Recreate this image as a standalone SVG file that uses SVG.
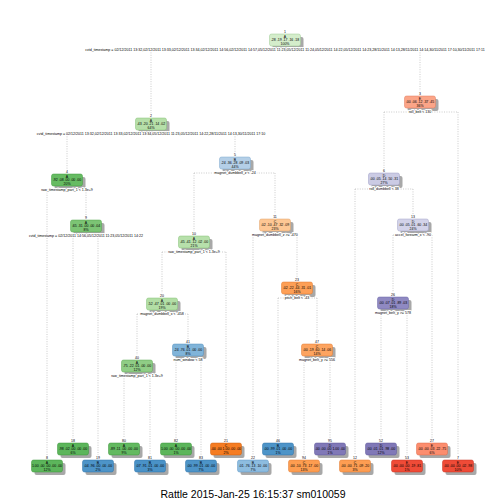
<svg xmlns="http://www.w3.org/2000/svg" width="504" height="504" viewBox="0 0 504 504">
<style>
.bg{fill:#ffffff}
.sh{fill:#a8a8a8}
.bx{stroke-width:0.5}
.nt{font-family:"Liberation Sans",Arial,sans-serif;font-size:3.5px;text-anchor:middle;fill:#000}
.sl{font-family:"Liberation Sans",Arial,sans-serif;font-size:3.6px;text-anchor:middle;fill:#000;stroke:#fff;stroke-width:2.2px;paint-order:stroke;stroke-linejoin:round}
.cn{stroke:#b4b4b4;stroke-width:0.7;stroke-dasharray:1 1.4;fill:none}
.ft{font-family:"Liberation Sans",Arial,sans-serif;font-size:10.5px;text-anchor:middle;fill:#000}
</style>
<rect class="bg" x="0" y="0" width="504" height="504"/>
<g id="connectors">
<path class="cn" d="M151,50H420M151,50V113M420,50V91"/>
<path class="cn" d="M67,134H235M67,134V169M235,134V152"/>
<path class="cn" d="M384,112H458M384,112V168M458,112V455"/>
<path class="cn" d="M47,190H86M47,190V455M86,190V215"/>
<path class="cn" d="M194,173H275M194,173V231M275,173V214"/>
<path class="cn" d="M355,189H413M355,189V455M413,189V214"/>
<path class="cn" d="M73,236H98M73,236V438M98,236V455"/>
<path class="cn" d="M162,252H226M162,252V293M226,252V438"/>
<path class="cn" d="M253,235H297M253,235V455M297,235V277"/>
<path class="cn" d="M393,235H432M393,235V292M432,235V438"/>
<path class="cn" d="M137,314H188M137,314V355M188,314V339"/>
<path class="cn" d="M278,298H317M278,298V438M317,298V339"/>
<path class="cn" d="M381,313H407M381,313V438M407,313V455"/>
<path class="cn" d="M124,376H150M124,376V438M150,376V455"/>
<path class="cn" d="M176,360H201M176,360V438M201,360V455"/>
<path class="cn" d="M304,360H330M304,360V455M330,360V438"/>
</g>

<g id="node1">
<rect class="sh" x="272.5" y="37" width="31" height="12" rx="2"/>
<rect class="bx" x="269.5" y="34" width="31" height="12" rx="2" fill="#d4edcb" stroke="#9ccb92"/>
<text class="nt" x="285" y="32.7">1</text>
<text class="nt" x="285" y="37.6">A</text>
<text class="nt" x="285" y="41.4">.28 .19 .17 .16 .18</text>
<text class="nt" x="285" y="45.2">100%</text>
<text class="sl" x="285" y="51.3">cvtd_timestamp = 02/12/2011 13:32,02/12/2011 13:33,02/12/2011 13:34,02/12/2011 14:56,02/12/2011 14:57,05/12/2011 11:23,05/12/2011 11:24,05/12/2011 14:22,05/12/2011 14:23,28/11/2011 14:13,28/11/2011 14:14,30/11/2011 17:10,30/11/2011 17:11</text>
</g>

<g id="node2">
<rect class="sh" x="138.5" y="121" width="31" height="12" rx="2"/>
<rect class="bx" x="135.5" y="118" width="31" height="12" rx="2" fill="#b6dfa9" stroke="#84c077"/>
<text class="nt" x="151" y="116.7">2</text>
<text class="nt" x="151" y="121.6">A</text>
<text class="nt" x="151" y="125.4">.43 .20 .21 .14 .02</text>
<text class="nt" x="151" y="129.2">64%</text>
<text class="sl" x="151" y="135.3">cvtd_timestamp = 02/12/2011 13:32,02/12/2011 13:33,02/12/2011 13:34,05/12/2011 11:23,05/12/2011 14:22,28/11/2011 14:13,30/11/2011 17:10</text>
</g>

<g id="node3">
<rect class="sh" x="407.5" y="99" width="31" height="12" rx="2"/>
<rect class="bx" x="404.5" y="96" width="31" height="12" rx="2" fill="#fba588" stroke="#e07a5c"/>
<text class="nt" x="420" y="94.7">3</text>
<text class="nt" x="420" y="99.6">E</text>
<text class="nt" x="420" y="103.4">.00 .06 .12 .37 .45</text>
<text class="nt" x="420" y="107.2">36%</text>
<text class="sl" x="420" y="113.3">roll_belt &lt; 130</text>
</g>

<g id="node4">
<rect class="sh" x="54.5" y="177" width="31" height="12" rx="2"/>
<rect class="bx" x="51.5" y="174" width="31" height="12" rx="2" fill="#66bb62" stroke="#3f9a3d"/>
<text class="nt" x="67" y="172.7">4</text>
<text class="nt" x="67" y="177.6">A</text>
<text class="nt" x="67" y="181.4">.92 .08 .00 .00 .00</text>
<text class="nt" x="67" y="185.2">20%</text>
<text class="sl" x="67" y="191.3">raw_timestamp_part_1 &lt; 1.3e+9</text>
</g>

<g id="node5">
<rect class="sh" x="222.5" y="160" width="31" height="12" rx="2"/>
<rect class="bx" x="219.5" y="157" width="31" height="12" rx="2" fill="#b4cfe7" stroke="#7ea8cf"/>
<text class="nt" x="235" y="155.7">5</text>
<text class="nt" x="235" y="160.6">B</text>
<text class="nt" x="235" y="164.4">.24 .36 .28 .09 .03</text>
<text class="nt" x="235" y="168.2">44%</text>
<text class="sl" x="235" y="174.3">magnet_dumbbell_z &lt; -24</text>
</g>

<g id="node6">
<rect class="sh" x="371.5" y="176" width="31" height="12" rx="2"/>
<rect class="bx" x="368.5" y="173" width="31" height="12" rx="2" fill="#cbcbe4" stroke="#9c9cc6"/>
<text class="nt" x="384" y="171.7">6</text>
<text class="nt" x="384" y="176.6">D</text>
<text class="nt" x="384" y="180.4">.00 .05 .14 .50 .31</text>
<text class="nt" x="384" y="184.2">27%</text>
<text class="sl" x="384" y="190.3">roll_dumbbell &lt; 38</text>
</g>

<g id="node9">
<rect class="sh" x="73.5" y="223" width="31" height="12" rx="2"/>
<rect class="bx" x="70.5" y="220" width="31" height="12" rx="2" fill="#7cc474" stroke="#52a64b"/>
<text class="nt" x="86" y="218.7">9</text>
<text class="nt" x="86" y="223.6">A</text>
<text class="nt" x="86" y="227.4">.65 .31 .00 .00 .04</text>
<text class="nt" x="86" y="231.2">8%</text>
<text class="sl" x="86" y="237.3">cvtd_timestamp = 02/12/2011 14:56,05/12/2011 11:23,05/12/2011 14:22</text>
</g>

<g id="node10">
<rect class="sh" x="181.5" y="239" width="31" height="12" rx="2"/>
<rect class="bx" x="178.5" y="236" width="31" height="12" rx="2" fill="#b7e0ab" stroke="#84c077"/>
<text class="nt" x="194" y="234.7">10</text>
<text class="nt" x="194" y="239.6">A</text>
<text class="nt" x="194" y="243.4">.45 .41 .12 .02 .00</text>
<text class="nt" x="194" y="247.2">21%</text>
<text class="sl" x="194" y="253.3">raw_timestamp_part_1 &lt; 1.3e+9</text>
</g>

<g id="node11">
<rect class="sh" x="262.5" y="222" width="31" height="12" rx="2"/>
<rect class="bx" x="259.5" y="219" width="31" height="12" rx="2" fill="#fdc794" stroke="#e0a26a"/>
<text class="nt" x="275" y="217.7">11</text>
<text class="nt" x="275" y="222.6">C</text>
<text class="nt" x="275" y="226.4">.02 .10 .47 .32 .09</text>
<text class="nt" x="275" y="230.2">23%</text>
<text class="sl" x="275" y="236.3">magnet_dumbbell_z &gt;= -470</text>
</g>

<g id="node13">
<rect class="sh" x="400.5" y="222" width="31" height="12" rx="2"/>
<rect class="bx" x="397.5" y="219" width="31" height="12" rx="2" fill="#d3d3e9" stroke="#a2a2c9"/>
<text class="nt" x="413" y="217.7">13</text>
<text class="nt" x="413" y="222.6">D</text>
<text class="nt" x="413" y="226.4">.00 .05 .01 .60 .34</text>
<text class="nt" x="413" y="230.2">24%</text>
<text class="sl" x="413" y="236.3">accel_forearm_x &lt; -90</text>
</g>

<g id="node20">
<rect class="sh" x="149.5" y="301" width="31" height="12" rx="2"/>
<rect class="bx" x="146.5" y="298" width="31" height="12" rx="2" fill="#b2dea5" stroke="#84c077"/>
<text class="nt" x="162" y="296.7">20</text>
<text class="nt" x="162" y="301.6">A</text>
<text class="nt" x="162" y="305.4">.52 .47 .01 .00 .00</text>
<text class="nt" x="162" y="309.2">19%</text>
<text class="sl" x="162" y="315.3">magnet_dumbbell_x &lt; -458</text>
</g>

<g id="node23">
<rect class="sh" x="284.5" y="285" width="31" height="12" rx="2"/>
<rect class="bx" x="281.5" y="282" width="31" height="12" rx="2" fill="#fd9f56" stroke="#e07a30"/>
<text class="nt" x="297" y="280.7">23</text>
<text class="nt" x="297" y="285.6">C</text>
<text class="nt" x="297" y="289.4">.02 .22 .44 .31 .01</text>
<text class="nt" x="297" y="293.2">16%</text>
<text class="sl" x="297" y="299.3">pitch_belt &lt; -43</text>
</g>

<g id="node26">
<rect class="sh" x="380.5" y="300" width="31" height="12" rx="2"/>
<rect class="bx" x="377.5" y="297" width="31" height="12" rx="2" fill="#8f89c2" stroke="#6b64a6"/>
<text class="nt" x="393" y="295.7">26</text>
<text class="nt" x="393" y="300.6">D</text>
<text class="nt" x="393" y="304.4">.00 .07 .01 .89 .03</text>
<text class="nt" x="393" y="308.2">18%</text>
<text class="sl" x="393" y="314.3">magnet_belt_y &gt;= 578</text>
</g>

<g id="node40">
<rect class="sh" x="124.5" y="363" width="31" height="12" rx="2"/>
<rect class="bx" x="121.5" y="360" width="31" height="12" rx="2" fill="#8fcd85" stroke="#5eaa55"/>
<text class="nt" x="137" y="358.7">40</text>
<text class="nt" x="137" y="363.6">A</text>
<text class="nt" x="137" y="367.4">.75 .22 .01 .00 .00</text>
<text class="nt" x="137" y="371.2">12%</text>
<text class="sl" x="137" y="377.3">raw_timestamp_part_1 &lt; 1.3e+9</text>
</g>

<g id="node41">
<rect class="sh" x="175.5" y="347" width="31" height="12" rx="2"/>
<rect class="bx" x="172.5" y="344" width="31" height="12" rx="2" fill="#80b4d9" stroke="#5690bf"/>
<text class="nt" x="188" y="342.7">41</text>
<text class="nt" x="188" y="347.6">B</text>
<text class="nt" x="188" y="351.4">.24 .76 .01 .00 .00</text>
<text class="nt" x="188" y="355.2">8%</text>
<text class="sl" x="188" y="361.3">num_window &lt; 58</text>
</g>

<g id="node47">
<rect class="sh" x="304.5" y="347" width="31" height="12" rx="2"/>
<rect class="bx" x="301.5" y="344" width="31" height="12" rx="2" fill="#fda460" stroke="#e07a30"/>
<text class="nt" x="317" y="342.7">47</text>
<text class="nt" x="317" y="347.6">C</text>
<text class="nt" x="317" y="351.4">.00 .19 .60 .14 .06</text>
<text class="nt" x="317" y="355.2">14%</text>
<text class="sl" x="317" y="361.3">magnet_belt_y &gt;= 556</text>
</g>

<!-- leaves top row y=443, bottom row y=460 -->
<g id="node8">
<rect class="sh" x="34.5" y="463" width="31" height="12" rx="2"/>
<rect class="bx" x="31.5" y="460" width="31" height="12" rx="2" fill="#5cb55b" stroke="#3a9439"/>
<text class="nt" x="47" y="458.7">8</text>
<text class="nt" x="47" y="463.6">A</text>
<text class="nt" x="47" y="467.4">1.00 .00 .00 .00 .00</text>
<text class="nt" x="47" y="471.2">12%</text>
</g>
<g id="node18">
<rect class="sh" x="60.5" y="446" width="31" height="12" rx="2"/>
<rect class="bx" x="57.5" y="443" width="31" height="12" rx="2" fill="#5cb55b" stroke="#3a9439"/>
<text class="nt" x="73" y="441.7">18</text>
<text class="nt" x="73" y="446.6">A</text>
<text class="nt" x="73" y="450.4">.98 .02 .00 .00 .00</text>
<text class="nt" x="73" y="454.2">6%</text>
</g>
<g id="node19">
<rect class="sh" x="85.5" y="463" width="31" height="12" rx="2"/>
<rect class="bx" x="82.5" y="460" width="31" height="12" rx="2" fill="#4d94c8" stroke="#2f72a8"/>
<text class="nt" x="98" y="458.7">19</text>
<text class="nt" x="98" y="463.6">B</text>
<text class="nt" x="98" y="467.4">.04 .96 .00 .00 .00</text>
<text class="nt" x="98" y="471.2">2%</text>
</g>
<g id="node80">
<rect class="sh" x="111.5" y="446" width="31" height="12" rx="2"/>
<rect class="bx" x="108.5" y="443" width="31" height="12" rx="2" fill="#63b960" stroke="#3a9439"/>
<text class="nt" x="124" y="441.7">80</text>
<text class="nt" x="124" y="446.6">A</text>
<text class="nt" x="124" y="450.4">.89 .11 .00 .00 .00</text>
<text class="nt" x="124" y="454.2">9%</text>
</g>
<g id="node81">
<rect class="sh" x="137.5" y="463" width="31" height="12" rx="2"/>
<rect class="bx" x="134.5" y="460" width="31" height="12" rx="2" fill="#4a92c7" stroke="#2f72a8"/>
<text class="nt" x="150" y="458.7">81</text>
<text class="nt" x="150" y="463.6">B</text>
<text class="nt" x="150" y="467.4">.07 .91 .01 .00 .00</text>
<text class="nt" x="150" y="471.2">3%</text>
</g>
<g id="node82">
<rect class="sh" x="163.5" y="446" width="31" height="12" rx="2"/>
<rect class="bx" x="160.5" y="443" width="31" height="12" rx="2" fill="#5cb55b" stroke="#3a9439"/>
<text class="nt" x="176" y="441.7">82</text>
<text class="nt" x="176" y="446.6">A</text>
<text class="nt" x="176" y="450.4">1.00 .00 .00 .00 .00</text>
<text class="nt" x="176" y="454.2">1%</text>
</g>
<g id="node83">
<rect class="sh" x="188.5" y="463" width="31" height="12" rx="2"/>
<rect class="bx" x="185.5" y="460" width="31" height="12" rx="2" fill="#4d94c8" stroke="#2f72a8"/>
<text class="nt" x="201" y="458.7">83</text>
<text class="nt" x="201" y="463.6">B</text>
<text class="nt" x="201" y="467.4">.00 .99 .01 .00 .00</text>
<text class="nt" x="201" y="471.2">7%</text>
</g>
<g id="node21">
<rect class="sh" x="213.5" y="446" width="31" height="12" rx="2"/>
<rect class="bx" x="210.5" y="443" width="31" height="12" rx="2" fill="#f57c22" stroke="#cc5e0c"/>
<text class="nt" x="226" y="441.7">21</text>
<text class="nt" x="226" y="446.6">C</text>
<text class="nt" x="226" y="450.4">.00 .00 1.00 .00 .00</text>
<text class="nt" x="226" y="454.2">2%</text>
</g>
<g id="node22">
<rect class="sh" x="240.5" y="463" width="31" height="12" rx="2"/>
<rect class="bx" x="237.5" y="460" width="31" height="12" rx="2" fill="#8dbcdf" stroke="#5f97c4"/>
<text class="nt" x="253" y="458.7">22</text>
<text class="nt" x="253" y="463.6">B</text>
<text class="nt" x="253" y="467.4">.01 .76 .13 .10 .00</text>
<text class="nt" x="253" y="471.2">7%</text>
</g>
<g id="node46">
<rect class="sh" x="265.5" y="446" width="31" height="12" rx="2"/>
<rect class="bx" x="262.5" y="443" width="31" height="12" rx="2" fill="#4d94c8" stroke="#2f72a8"/>
<text class="nt" x="278" y="441.7">46</text>
<text class="nt" x="278" y="446.6">B</text>
<text class="nt" x="278" y="450.4">.00 .99 .01 .00 .00</text>
<text class="nt" x="278" y="454.2">1%</text>
</g>
<g id="node94">
<rect class="sh" x="291.5" y="463" width="31" height="12" rx="2"/>
<rect class="bx" x="288.5" y="460" width="31" height="12" rx="2" fill="#fd9d50" stroke="#e07a30"/>
<text class="nt" x="304" y="458.7">94</text>
<text class="nt" x="304" y="463.6">C</text>
<text class="nt" x="304" y="467.4">.00 .10 .73 .17 .00</text>
<text class="nt" x="304" y="471.2">13%</text>
</g>
<g id="node95">
<rect class="sh" x="317.5" y="446" width="31" height="12" rx="2"/>
<rect class="bx" x="314.5" y="443" width="31" height="12" rx="2" fill="#8078b7" stroke="#5e579b"/>
<text class="nt" x="330" y="441.7">95</text>
<text class="nt" x="330" y="446.6">D</text>
<text class="nt" x="330" y="450.4">.00 .00 .00 1.00 .00</text>
<text class="nt" x="330" y="454.2">1%</text>
</g>
<g id="node12">
<rect class="sh" x="342.5" y="463" width="31" height="12" rx="2"/>
<rect class="bx" x="339.5" y="460" width="31" height="12" rx="2" fill="#fd9d52" stroke="#e07a30"/>
<text class="nt" x="355" y="458.7">12</text>
<text class="nt" x="355" y="463.6">C</text>
<text class="nt" x="355" y="467.4">.00 .00 .71 .09 .20</text>
<text class="nt" x="355" y="471.2">3%</text>
</g>
<g id="node52">
<rect class="sh" x="368.5" y="446" width="31" height="12" rx="2"/>
<rect class="bx" x="365.5" y="443" width="31" height="12" rx="2" fill="#8078b7" stroke="#5e579b"/>
<text class="nt" x="381" y="441.7">52</text>
<text class="nt" x="381" y="446.6">D</text>
<text class="nt" x="381" y="450.4">.00 .01 .01 .98 .00</text>
<text class="nt" x="381" y="454.2">12%</text>
</g>
<g id="node53">
<rect class="sh" x="394.5" y="463" width="31" height="12" rx="2"/>
<rect class="bx" x="391.5" y="460" width="31" height="12" rx="2" fill="#ef4b37" stroke="#c73020"/>
<text class="nt" x="407" y="458.7">53</text>
<text class="nt" x="407" y="463.6">E</text>
<text class="nt" x="407" y="467.4">.00 .00 .00 .19 .81</text>
<text class="nt" x="407" y="471.2">1%</text>
</g>
<g id="node27">
<rect class="sh" x="419.5" y="446" width="31" height="12" rx="2"/>
<rect class="bx" x="416.5" y="443" width="31" height="12" rx="2" fill="#fc8d6e" stroke="#df6a4b"/>
<text class="nt" x="432" y="441.7">27</text>
<text class="nt" x="432" y="446.6">E</text>
<text class="nt" x="432" y="450.4">.00 .00 .03 .22 .75</text>
<text class="nt" x="432" y="454.2">6%</text>
</g>
<g id="node7">
<rect class="sh" x="445.5" y="463" width="31" height="12" rx="2"/>
<rect class="bx" x="442.5" y="460" width="31" height="12" rx="2" fill="#ef4b37" stroke="#c73020"/>
<text class="nt" x="458" y="458.7">7</text>
<text class="nt" x="458" y="463.6">E</text>
<text class="nt" x="458" y="467.4">.00 .00 .00 .02 .98</text>
<text class="nt" x="458" y="471.2">10%</text>
</g>

<text class="ft" x="253" y="498">Rattle 2015-Jan-25 16:15:37 sm010059</text>
</svg>
